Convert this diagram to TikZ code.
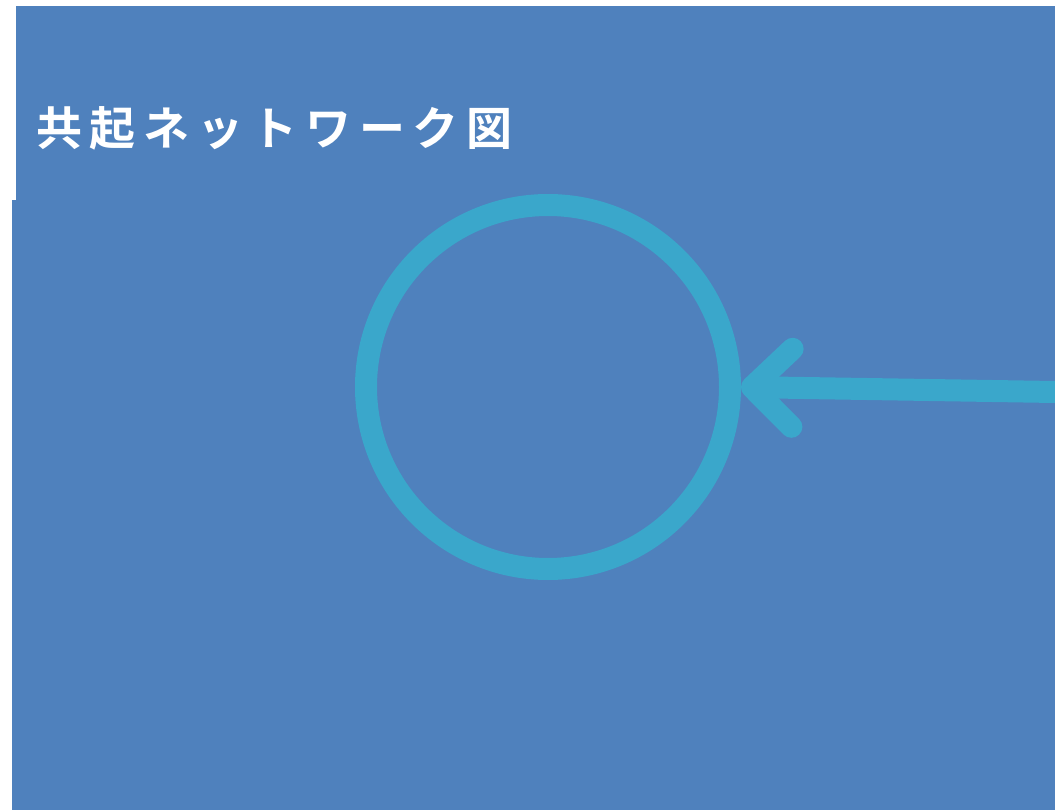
\documentclass[tikz,border=0pt]{standalone}
\usepackage{fontspec}
\newfontfamily\jpfont[LetterSpace=17]{Noto Sans CJK JP Bold}
\usetikzlibrary{positioning}
\usetikzlibrary {arrows.meta}
\definecolor{panelblue}{HTML}{4F81BD}
\definecolor{ringblue}{HTML}{3AA7CB}
\tikzset{panel/.style={fill=panelblue,draw=none}}
\tikzset{titletext/.style={text=white,inner sep=0pt,anchor=west,
font=\jpfont\fontsize{46pt}{50pt}\selectfont}}
\tikzset{ring/.style={circle,draw=ringblue,line width=22pt,minimum size=364pt,inner sep=0pt}}
\tikzset{link/.style={draw=ringblue,line width=22pt,
-{Straight Barb[length=40pt,width=78pt,line cap=round,line join=round]}}}

\begin{document}
\begin{tikzpicture}[x=1pt,y=1pt]
        \useasboundingbox[fill=white] (0,0) rectangle (1055,-810);
        \fill[panel] (16,-6) rectangle (1055,-201);
        \fill[panel] (12,-200) rectangle (1055,-810);

        \node[titletext] (title) at (36,-128) {共起ネットワーク図};

        \node[ring] (net) at (548,-387) {};
        \coordinate (src) at (1055,-392);
        \draw[link] (src) -- (net.east);
    \end{tikzpicture}
\end{document}
